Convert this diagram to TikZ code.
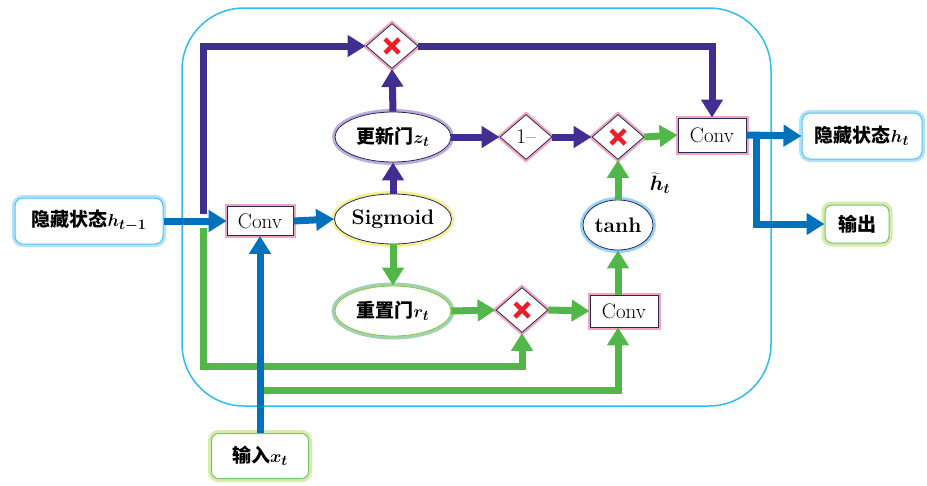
\documentclass[tikz,border=0pt]{standalone}
\usepackage{fontspec}
\usepackage{bm}
\usetikzlibrary{arrows.meta,shapes.geometric}
\newfontfamily\cjk{Noto Sans CJK SC}
\definecolor{pur}{RGB}{64,46,145}
\definecolor{blu}{RGB}{0,114,188}
\definecolor{grn}{RGB}{80,183,72}
\definecolor{framec}{RGB}{45,190,240}
\definecolor{navy}{RGB}{40,40,90}
\definecolor{xred}{RGB}{235,30,40}
\definecolor{pinkg}{RGB}{242,165,185}
\definecolor{purg}{RGB}{190,170,220}
\definecolor{yelg}{RGB}{246,240,140}
\definecolor{grng}{RGB}{160,210,175}
\definecolor{grnb}{RGB}{140,198,63}
\definecolor{blug}{RGB}{150,210,245}
\definecolor{boxb}{RGB}{80,195,240}
\definecolor{boxg}{RGB}{180,225,250}
\definecolor{outb}{RGB}{120,195,110}
\definecolor{outg}{RGB}{215,235,170}
\newcommand\mulcross[1]{\draw[xred,line width=4.5pt] (#1) ++(-7,-7) -- ++(14,14) (#1) ++(-7,7) -- ++(14,-14);}
\tikzset{
  x=1pt,y=-1pt,
  every node/.style={font=\fontsize{21}{24}\selectfont},
  convbox/.style={rectangle,draw=navy,line width=0.8pt,fill=white,inner sep=0,
    preaction={draw=pinkg,line width=5pt}},
  mulbox/.style={diamond,draw=navy,line width=0.8pt,fill=white,inner sep=0,
    minimum width=52pt,minimum height=45pt,preaction={draw=pinkg,line width=5pt}},
  gate/.style={ellipse,line width=0.8pt,fill=white,inner sep=0,
    minimum width=116pt,minimum height=50pt},
  hidbox/.style={rectangle,rounded corners=8pt,draw=boxb,line width=1pt,fill=white,
    inner sep=0,preaction={draw=boxg,line width=6pt}},
  iobox/.style={rectangle,rounded corners=7pt,draw=outb,line width=1pt,fill=white,
    inner sep=0,preaction={draw=outg,line width=7pt}},
  arr/.style={line width=7pt,-{Triangle[length=18pt,width=21pt]}},
  parr/.style={arr,draw=pur},
  barr/.style={arr,draw=blu},
  garr/.style={arr,draw=grn},
  cjkt/.style={font=\fontsize{19}{22}\selectfont},
}
\begin{document}
\begin{tikzpicture}
\useasboundingbox (0,0) rectangle (927,485);
% frame
\draw[framec,line width=1.5pt,rounded corners=62pt] (182,8) rectangle (771,406);

% nodes
\node[hidbox,cjkt,minimum width=148pt,minimum height=46pt] (h1) at (89,221) {{\cjk\bfseries 隐藏状态}$\bm{h}_{\bm{t-1}}$};
\node[convbox,minimum width=66pt,minimum height=29pt] (conv1) at (260,221) {Conv};
\node[gate,draw=navy,preaction={draw=yelg,line width=6pt}] (sig) at (393,219) {\bfseries Sigmoid};
\node[gate,cjkt,draw=navy,preaction={draw=purg,line width=6pt}] (zt) at (393,137) {{\cjk\bfseries 更新门}$\bm{z}_{\bm{t}}$};
\node[gate,cjkt,draw=grnb,preaction={draw=grng,line width=7pt}] (rt) at (393,311) {{\cjk\bfseries 重置门}$\bm{r}_{\bm{t}}$};
\node[mulbox] (mt) at (392,46) {};
\node[mulbox] (one) at (526,137) {1--};
\node[mulbox] (m3) at (618,137) {};
\node[mulbox] (m2) at (522,310) {};
\node[convbox,minimum width=68pt,minimum height=34pt] (conv2) at (712,135) {Conv};
\node[convbox,minimum width=68pt,minimum height=32pt] (conv3) at (624,311) {Conv};
\node[ellipse,draw=navy,line width=0.8pt,fill=white,inner sep=0,minimum width=70pt,minimum height=50pt,
  preaction={draw=blug,line width=6pt}] (tanh) at (618,225) {\bfseries tanh};
\node[hidbox,cjkt,minimum width=120pt,minimum height=46pt] (ht) at (862,136) {{\cjk\bfseries 隐藏状态}$\bm{h}_{\bm{t}}$};
\node[iobox,cjkt,minimum width=64pt,minimum height=38pt] (out) at (857,224) {{\cjk\bfseries 输出}};
\node[iobox,cjkt,minimum width=97pt,minimum height=45pt] (xin) at (260,456) {{\cjk\bfseries 输入}$\bm{x}_{\bm{t}}$};
\node (hlab) at (660,183) {$\widetilde{\bm{h}}_{\bm{t}}$};

\mulcross{mt}
\mulcross{m3}
\mulcross{m2}

% coordinates
\coordinate (pA) at (203,214);
\coordinate (gA) at (203,228);
\coordinate (gB) at (522,366);
\coordinate (gC) at (256.5,390);
\coordinate (bB) at (756,131.5);

% connectors
\draw[barr] (h1.east) -- (conv1.west);
\draw[parr] (pA) |- (mt.west);
\draw[parr] (mt.east) -| (conv2.north);
\draw[barr] (conv1.east) -- (sig.west);
\draw[parr] (sig.north) -- (zt.south);
\draw[parr] (zt.north) -- (mt.south);
\draw[parr] (zt.east) -- (one.west);
\draw[parr] (one.east) -- (m3.west);
\draw[garr] (m3.east) -- (conv2.west);
\draw[barr] (conv2.east) -- (ht.west);
\draw[barr] (bB) |- (out.west);
\draw[garr] (sig.south) -- (rt.north);
\draw[garr] (rt.east) -- (m2.west);
\draw[garr] (m2.east) -- (conv3.west);
\draw[garr] (gA) |- (gB) -- (m2.south);
\draw[garr] (gC) -| (conv3.south -| tanh.south);
\draw[garr] (conv3.north -| tanh.south) -- (tanh.south);
\draw[garr] (tanh.north) -- (m3.south);
\draw[barr] (xin.north) -- (conv1.south);
\end{tikzpicture}
\end{document}
